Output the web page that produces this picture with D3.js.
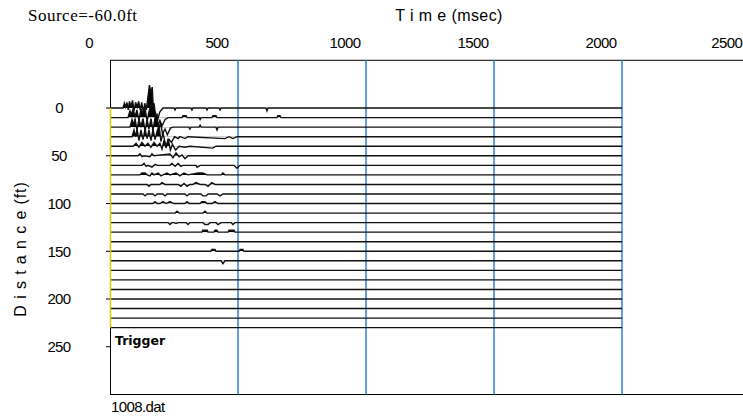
<!DOCTYPE html>
<html><head><meta charset="utf-8">
<script src="https://cdn.jsdelivr.net/npm/d3@7"></script>
<style>
html,body{margin:0;padding:0;background:#fff;}
svg{display:block;}
.tick{font-family:"Liberation Sans",Arial,sans-serif;font-size:15px;letter-spacing:-0.6px;fill:#000;}
</style></head><body>
<script>
// ---- data ----
const sourceLabel = "Source=-60.0ft";
const fileLabel = "1008.dat";
const xTicks = [0, 500, 1000, 1500, 2000, 2500];
const yTicks = [0, 50, 100, 150, 200, 250];
const gridTimes = [500, 1000, 1500, 2000];
const traceDistances = [0,10,20,30,40,50,60,70,80,90,100,110,120,130,140,150,160,170,180,190,200,210,220,230];
const recordEnd = 2000;
// each trace: [time ms, amplitude ft (up = positive)]
const tr0 = [[51,0],[56,5],[61,1],[66,6],[71,-2],[76,7],[82,2],[88,8],[94,-3],[100,6],[106,1],[112,7],[118,-2],[124,6],[130,-4],[136,5],[142,-2],[148,11],[154,24],[160,16],[165,22],[171,-9],[178,-5],[186,-12],[195,-4],[207,0],[250,0],[254,-2],[258,0],[316,0],[320,-2],[324,0],[375,0],[379,-2],[383,0],[426,0],[430,-2],[434,0],[609,0],[613,-3],[617,0]];
const tr1 = [[70,0],[78,7],[84,3],[90,9],[98,1],[105,8],[113,-3],[121,9],[129,4],[137,10],[145,-4],[152,6],[160,14],[166,9],[172,15],[180,-2],[188,-8],[195,-3],[203,-9],[215,-2],[227,0],[281,0],[285,2],[297,2],[301,0],[348,0],[352,-2],[356,0],[398,0],[402,2],[414,2],[418,0],[652,0],[656,2],[664,2],[668,0]];
const tr2 = [[78,0],[86,8],[92,2],[98,9],[105,-3],[113,8],[121,1],[129,9],[137,-4],[145,8],[152,-2],[160,9],[168,-3],[176,10],[184,13],[190,-4],[198,5],[205,-7],[215,-2],[224,-8],[236,-1],[246,0],[308,0],[312,-2],[316,0],[348,0],[352,2],[356,0],[414,0],[418,-3],[422,0]];
const tr3 = [[86,0],[94,7],[100,0],[106,8],[113,-4],[121,7],[129,-3],[137,8],[145,-2],[152,7],[160,-4],[168,8],[176,-3],[184,6],[192,11],[199,-5],[207,4],[215,-6],[223,-9],[231,-3],[240,-6],[252,0],[266,-2],[273,0],[293,-2],[305,0],[449,-2],[465,0],[480,-2],[496,0]];
const tr4 = [[90,0],[102,3],[113,-1],[125,4],[137,0],[148,3],[160,-1],[172,4],[184,0],[195,3],[203,-3],[211,6],[219,-2],[227,8],[236,-4],[244,2],[256,-4],[270,0],[293,-1],[312,0],[402,-2],[414,0]];
const tr5 = [[109,0],[117,2],[125,-1],[133,0],[156,-1],[164,2],[172,0],[234,2],[246,-2],[258,3],[270,-1],[281,1],[293,-3],[305,0]];
const tr6 = [[125,0],[133,2],[141,-1],[148,0],[164,-2],[176,1],[184,0],[234,0],[242,2],[254,-1],[266,2],[277,-1],[285,0],[336,0],[340,-2],[352,0],[484,0],[496,-3],[508,0]];
const tr7 = [[117,0],[125,2],[137,2],[145,0],[156,-1],[164,2],[172,0],[188,2],[199,-1],[207,0],[223,2],[234,0],[258,2],[273,-1],[289,2],[305,0],[344,2],[363,2],[379,0],[434,0],[441,2],[449,0]];
const tr8 = [[145,0],[152,-2],[160,0],[195,0],[203,2],[215,0],[266,0],[277,-2],[289,1],[301,-2],[312,0],[324,0],[336,2],[352,0],[371,0],[383,-2],[398,2],[410,0]];
const tr9 = [[129,0],[137,-2],[145,0],[168,0],[176,-2],[184,0],[207,0],[215,-2],[223,0],[293,0],[301,-2],[309,0],[355,0],[363,-2],[375,-2],[383,0],[418,0],[430,-2],[441,0]];
const tr10 = [[168,0],[176,2],[184,0],[195,0],[207,2],[219,0],[234,2],[250,0],[293,0],[301,2],[309,0],[352,0],[359,2],[371,2],[379,0],[398,0],[410,2],[422,0]];
const tr11 = [[254,0],[262,2],[270,0],[363,0],[371,2],[379,0]];
const tr12 = [[227,0],[234,-2],[242,0],[250,0],[258,-1],[266,0],[297,0],[305,-2],[312,0],[363,0],[371,-2],[383,-2],[391,0],[414,0],[422,-2],[434,0],[473,0],[480,-2],[488,0]];
const tr13 = [[359,0],[362,2],[380,2],[383,0],[406,0],[410,2],[418,2],[422,0],[461,0],[465,2],[484,2],[488,0]];
const tr14 = [];
const tr15 = [[394,0],[398,2],[410,2],[414,0],[504,0],[508,2],[519,2],[523,0]];
const tr16 = [[434,0],[441,-3],[449,0]];
const traces = [tr0,tr1,tr2,tr3,tr4,tr5,tr6,tr7,tr8,tr9,tr10,tr11,tr12,tr13,tr14,tr15,tr16,[],[],[],[],[],[],[]];

// ---- drawing ----
const W = 743, H = 419;
const svg = d3.select("body").append("svg").attr("width", W).attr("height", H);
const x = d3.scaleLinear().domain([0, 2500]).range([110, 750]);
const y = d3.scaleLinear().domain([-50, 300]).range([60.3, 394.5]);
const plotTop = y(-50), plotBot = y(300), plotLeft = x(0);

// frame
svg.append("rect").attr("x", plotLeft + 0.5).attr("y", plotTop).attr("width", 700).attr("height", plotBot - plotTop)
  .attr("fill", "none").attr("stroke", "#000").attr("stroke-width", 1);

// blue grid lines
svg.selectAll("line.grid").data(gridTimes).join("line").attr("class", "grid")
  .attr("x1", d => x(d)).attr("x2", d => x(d)).attr("y1", plotTop).attr("y2", plotBot)
  .attr("stroke", "#2f80d6").attr("stroke-width", 1.5);

// traces
const defs = svg.append("defs");
traceDistances.forEach((dist, i) => {
  const pts = [[0, 0], ...traces[i], [recordEnd, 0]];
  const base = y(dist);
  defs.append("clipPath").attr("id", "c" + i).append("rect")
    .attr("x", 0).attr("y", 0).attr("width", W).attr("height", base);
  const area = d3.area().x(d => x(d[0])).y0(base).y1(d => y(dist - d[1]));
  svg.append("path").datum(pts).attr("d", area).attr("fill", "#000")
    .attr("clip-path", "url(#c" + i + ")");
  const line = d3.line().x(d => x(d[0])).y(d => y(dist - d[1]));
  svg.append("path").datum(pts).attr("d", line).attr("fill", "none")
    .attr("stroke", "#111").attr("stroke-width", 1.4);
});

// trigger line
svg.append("line").attr("x1", plotLeft + 0.5).attr("x2", plotLeft + 0.5)
  .attr("y1", y(traceDistances[0])).attr("y2", y(traceDistances[traceDistances.length - 1]))
  .attr("stroke", "#d8cc00").attr("stroke-width", 1.5);

// y ticks
svg.selectAll("line.yt").data(yTicks).join("line").attr("class", "yt")
  .attr("x1", plotLeft - 4).attr("x2", plotLeft).attr("y1", d => y(d)).attr("y2", d => y(d))
  .attr("stroke", "#000");
svg.selectAll("text.yl").data(yTicks).join("text").attr("class", "tick yl")
  .attr("x", 59).attr("y", d => y(d)).attr("dy", "0.36em").attr("text-anchor", "middle")
  .text(d => d);
// x tick labels (offset left as in the original)
const xl = svg.selectAll("text.xl").data(xTicks).join("text").attr("class", "tick xl")
  .attr("x", d => x(d) - 21).attr("y", 48).attr("text-anchor", "middle").text(d => d);
xl.each(function () {
  const b = this.getBBox();
  if (b.x + b.width > W - 0.5) d3.select(this).attr("x", +d3.select(this).attr("x") - (b.x + b.width - W + 0.5));
});

// titles
svg.append("text").attr("x", 28).attr("y", 21)
  .attr("font-family", "'Liberation Serif','Times New Roman',serif").attr("font-size", 17)
  .attr("letter-spacing", "0.5px")
  .text(sourceLabel);
svg.append("text").attr("x", 449).attr("y", 21).attr("text-anchor", "middle")
  .attr("font-family", "'Liberation Sans',Arial,sans-serif").attr("font-size", 16)
  .attr("letter-spacing", "0.4px")
  .text("T i m e (msec)");
svg.append("text").attr("transform", "translate(26,249) rotate(-90)").attr("text-anchor", "middle")
  .attr("font-family", "'Liberation Sans',Arial,sans-serif").attr("font-size", 16)
  .attr("letter-spacing", "0.9px")
  .text("D i s t a n c e (ft)");
svg.append("text").attr("x", 115).attr("y", 345)
  .attr("font-family", "'DejaVu Sans',sans-serif").attr("font-weight", "bold").attr("font-size", 12.5)
  .text("Trigger");
svg.append("text").attr("x", 111).attr("y", 412).attr("class", "tick")
  .text(fileLabel);
</script>
</body></html>
